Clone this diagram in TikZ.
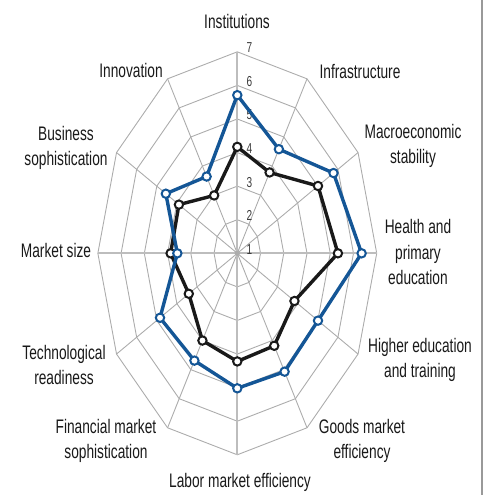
\documentclass[tikz,border=0pt]{standalone}
\usepackage{fontspec}
\setmainfont{Liberation Sans}[FakeStretch=0.7]
\usepackage{xcolor}
\usepackage{tikz}
\usetikzlibrary{calc}

\definecolor{pillarblue}{RGB}{20,86,150}
\definecolor{gridgray}{RGB}{172,172,172}
\definecolor{textgray}{RGB}{25,25,25}

\tikzset{
  pillar/.style={font=\fontsize{9.8}{12.6}\selectfont, text=textgray, align=center, inner sep=0pt},
  ringnum/.style={font=\fontsize{7.2}{7}\selectfont, text=textgray!85, inner sep=0pt},
  score/.style={line width=1.7pt, line join=round},
  scoredot/.style={circle, draw, fill=white, line width=1pt, inner sep=0pt, minimum size=4.2pt}
}

\begin{document}
\begin{tikzpicture}[x=0.5pt, y=0.5pt]

\useasboundingbox (-237.3,-241.7) rectangle (247.7,253.3);

% Frame line on the right
\draw[gray!80, line width=0.75pt] (244.7,-241.7) -- (244.7,253.3);

% Radar grid (6 rings, 12 spokes)
\begin{scope}[x=11.62pt, y=16.79pt]
  \foreach \r in {1,...,6}
    \draw[gridgray, line width=0.45pt] (90:\r) \foreach \a in {60,30,...,-240} { -- (\a:\r) } -- cycle;
  \foreach \a in {60,30,-30,-60,-120,-150,150,120}
    \draw[gridgray, line width=0.45pt] (0,0) -- (\a:6);
  \draw[gridgray!80, line width=0.9pt] (-6,0) -- (6,0);
  \draw[gridgray!80, line width=0.9pt] (0,-6) -- (0,6);
  \fill[gridgray] (0,0) circle (1.3pt);
\end{scope}

% Scale numbers
\foreach \k in {1,...,7}
  \node[ringnum] (num\k) at (12.2, {(\k-1)*33.58+4}) {\k};

% Scores (value minus 1 is the radius)
\begin{scope}[x=11.62pt, y=16.79pt]
  % black series
  \foreach \v [count=\i from 0] in {4.17,3.78,5.01,5.33,3.84,4.18,4.22,4.00,3.41,3.87,3.90,2.99}
    \coordinate (k\i) at ({90-30*\i}:{\v-1});
  \draw[score, black!90] (k0) -- (k1) -- (k2) -- (k3) -- (k4) -- (k5) -- (k6)
    -- (k7) -- (k8) -- (k9) -- (k10) -- (k11) -- cycle;
  \foreach \i in {0,...,11}
    \node[scoredot, draw=black!90] at (k\i) {};

  % blue series
  \foreach \v [count=\i from 0] in {5.71,4.58,5.78,6.35,5.01,5.07,5.02,4.69,4.84,3.58,4.55,3.64}
    \coordinate (b\i) at ({90-30*\i}:{\v-1});
  \draw[score, pillarblue] (b0) -- (b1) -- (b2) -- (b3) -- (b4) -- (b5) -- (b6)
    -- (b7) -- (b8) -- (b9) -- (b10) -- (b11) -- cycle;
  \foreach \i in {0,...,11}
    \node[scoredot, draw=pillarblue] at (b\i) {};
\end{scope}

% Pillar names
\node[pillar] (institutions) at (-0.3,232.3) {Institutions};
\node[pillar] (infra) at (122.7,182.3) {Infrastructure};
\node[pillar] (macro) at (175.7,107.3) {Macroeconomic\\stability};
\node[pillar] (health) at (180.7,1.3) {Health and\\primary\\education};
\node[pillar] (higher) at (182.7,-106.7) {Higher education\\and training};
\node[pillar] (goods) at (124.7,-187.7) {Goods market\\efficiency};
\node[pillar] (labor) at (2.7,-228.7) {Labor market efficiency};
\node[pillar] (financial) at (-131.3,-187.7) {Financial market\\sophistication};
\node[pillar] (tech) at (-173.3,-111.7) {Technological\\readiness};
\node[pillar] (market) at (-181.3,3.3) {Market size};
\node[pillar] (business) at (-171.3,105.3) {Business\\sophistication};
\node[pillar] (innovation) at (-106.3,183.3) {Innovation};

\end{tikzpicture}
\end{document}
